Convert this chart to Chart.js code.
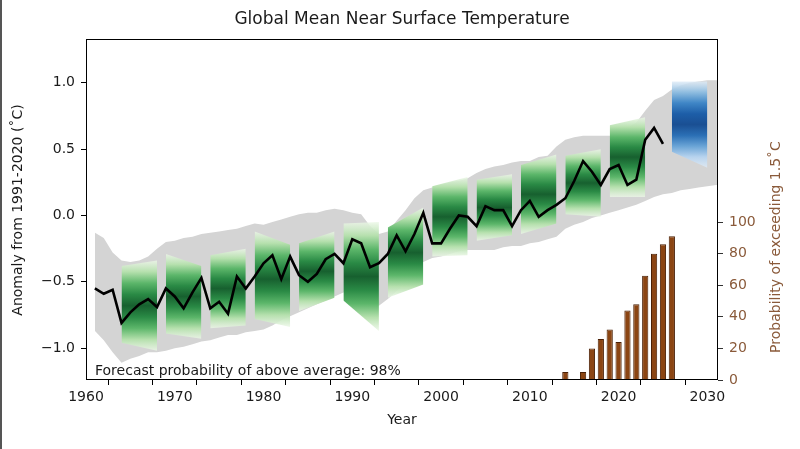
<!DOCTYPE html>
<html>
<head>
<meta charset="utf-8">
<script src="https://cdn.jsdelivr.net/npm/chart.js@4/dist/chart.umd.min.js"></script>
<style>
  html, body { margin: 0; padding: 0; background: #fff; }
</style>
</head>
<body>
<canvas id="chart" width="800" height="449"></canvas>
<script>
// observed anomaly, one value per year from 1961
const anomFirstYear = 1961;
const anomaly = [
  -0.55, -0.59, -0.56, -0.81, -0.73, -0.67, -0.63, -0.69, -0.55, -0.61,
  -0.70, -0.58, -0.47, -0.70, -0.65, -0.74, -0.46, -0.55, -0.46, -0.36,
  -0.30, -0.48, -0.31, -0.45, -0.50, -0.44, -0.33, -0.29, -0.36, -0.18,
  -0.21, -0.39, -0.36, -0.29, -0.15, -0.27, -0.14, 0.02, -0.21, -0.21,
  -0.10, 0.00, -0.01, -0.08, 0.07, 0.04, 0.04, -0.08, 0.04, 0.11,
  -0.01, 0.04, 0.08, 0.13, 0.26, 0.41, 0.33, 0.23, 0.35, 0.38,
  0.23, 0.27, 0.57, 0.66, 0.54
];

// grey model range, one value per year from 1961
const envFirstYear = 1961;
const envUpper = [
  -0.13, -0.17, -0.28, -0.34, -0.35, -0.34, -0.31, -0.25, -0.20, -0.19,
  -0.17, -0.16, -0.14, -0.13, -0.12, -0.11, -0.10, -0.08, -0.06, -0.07,
  -0.05, -0.03, -0.01, 0.01, 0.02, 0.02, 0.04, 0.05, 0.04, 0.02,
  0.01, -0.08, -0.14, -0.12, -0.04, 0.04, 0.13, 0.19, 0.21, 0.23,
  0.25, 0.26, 0.28, 0.32, 0.35, 0.37, 0.38, 0.40, 0.41, 0.41,
  0.44, 0.45, 0.52, 0.57, 0.59, 0.60, 0.60, 0.60, 0.60, 0.63,
  0.66, 0.70, 0.79, 0.87, 0.90, 0.95, 0.98, 1.00, 1.01, 1.02,
  1.02, 1.02
];
const envLower = [
  -0.87, -0.94, -1.03, -1.11, -1.08, -1.06, -1.03, -1.03, -1.02, -1.00,
  -0.99, -0.97, -0.95, -0.94, -0.92, -0.90, -0.90, -0.88, -0.87, -0.86,
  -0.83, -0.79, -0.76, -0.73, -0.70, -0.67, -0.64, -0.61, -0.58, -0.57,
  -0.58, -0.68, -0.68, -0.63, -0.57, -0.51, -0.44, -0.35, -0.32, -0.31,
  -0.29, -0.27, -0.26, -0.26, -0.26, -0.26, -0.24, -0.23, -0.23, -0.21,
  -0.20, -0.18, -0.16, -0.10, -0.07, -0.05, -0.02, 0.00, 0.02, 0.04,
  0.06, 0.08, 0.11, 0.14, 0.16, 0.17, 0.19, 0.20, 0.21, 0.22,
  0.23, 0.23
];

// hindcast plumes (green), each spans start..start+4
const plumeStart = [1964, 1969, 1974, 1979, 1984, 1989, 1994, 1999, 2004, 2009, 2014, 2019];
const plumeTopL = [-0.38, -0.29, -0.30, -0.12, -0.21, -0.06, -0.09, 0.22, 0.27, 0.38, 0.45, 0.68];
const plumeTopR = [-0.34, -0.38, -0.25, -0.22, -0.12, -0.05, 0.06, 0.29, 0.31, 0.46, 0.50, 0.74];
const plumeBotL = [-0.96, -0.89, -0.85, -0.78, -0.72, -0.64, -0.62, -0.31, -0.19, -0.14, 0.01, 0.14];
const plumeBotR = [-1.02, -0.93, -0.83, -0.84, -0.62, -0.87, -0.52, -0.30, -0.15, -0.06, -0.01, 0.14];

// forecast plume (blue)
const fcYears = [2026, 2030];
const fcTop = [1.01, 1.01];
const fcBot = [0.48, 0.36];

// probability of exceeding 1.5C
const probYears = [2014, 2016, 2017, 2018, 2019, 2020, 2021, 2022, 2023, 2024, 2025, 2026];
const probValues = [5, 5, 20, 26, 32, 24, 44, 48, 66, 80, 86, 91];

const xTicks = [1960, 1965, 1970, 1975, 1980, 1985, 1990, 1995, 2000, 2005, 2010, 2015, 2020, 2025, 2030];
const yTicks = [-1.0, -0.5, 0.0, 0.5, 1.0];
const y1Ticks = [0, 20, 40, 60, 80, 100];

const FONT = 'DejaVu Sans';
const BROWN_TXT = '#8a5a3a';

function series(firstYear, vals) {
  return vals.map((v, i) => ({ x: firstYear + i, y: v }));
}

function plumeGradient(top, bot, stops) {
  return function (ctx) {
    const chart = ctx.chart;
    if (!chart.chartArea) return stops[0];
    const ys = chart.scales.y;
    const y0 = ys.getPixelForValue(top);
    const y1 = ys.getPixelForValue(bot);
    const g = chart.ctx.createLinearGradient(0, y0, 0, y1);
    const n = stops.length - 1;
    stops.forEach((c, i) => g.addColorStop(i / n, c));
    return g;
  };
}

const greenStops = ['rgba(235,247,230,0.8)', '#b5e0ad', '#5cb66a', '#2a8a45', '#17602f', '#2a8a45', '#5cb66a', '#b5e0ad', 'rgba(235,247,230,0.8)'];
const blueStops = ['rgba(222,235,247,0.8)', '#8fbde0', '#3f86c6', '#1d5ea8', '#1a4f93', '#2b6fb5', '#6aa4d6', '#b7d3ee', 'rgba(222,235,247,0.8)'];

const datasets = [];

// grey envelope
datasets.push({
  data: series(envFirstYear, envUpper),
  borderWidth: 0, pointRadius: 0, fill: '+1',
  backgroundColor: '#d4d4d4', order: 10
});
datasets.push({
  data: series(envFirstYear, envLower),
  borderWidth: 0, pointRadius: 0, fill: false, order: 10
});

plumeStart.forEach((s, i) => {
  const top = Math.max(plumeTopL[i], plumeTopR[i]);
  const bot = Math.min(plumeBotL[i], plumeBotR[i]);
  datasets.push({
    data: [{ x: s, y: plumeTopL[i] }, { x: s + 4, y: plumeTopR[i] }],
    borderWidth: 0, pointRadius: 0, fill: '+1',
    backgroundColor: plumeGradient(top, bot, greenStops), order: 5
  });
  datasets.push({
    data: [{ x: s, y: plumeBotL[i] }, { x: s + 4, y: plumeBotR[i] }],
    borderWidth: 0, pointRadius: 0, fill: false, order: 5
  });
});

datasets.push({
  data: [{ x: fcYears[0], y: fcTop[0] }, { x: fcYears[1], y: fcTop[1] }],
  borderWidth: 0, pointRadius: 0, fill: '+1',
  backgroundColor: plumeGradient(Math.max(...fcTop), Math.min(...fcBot), blueStops), order: 5
});
datasets.push({
  data: [{ x: fcYears[0], y: fcBot[0] }, { x: fcYears[1], y: fcBot[1] }],
  borderWidth: 0, pointRadius: 0, fill: false, order: 5
});

datasets.push({
  data: series(anomFirstYear, anomaly),
  borderColor: '#000', borderWidth: 2.6, pointRadius: 0, fill: false,
  tension: 0, order: 1
});

datasets.push({
  type: 'bar',
  yAxisID: 'y1',
  data: probYears.map((yr, i) => ({ x: yr, y: probValues[i] })),
  backgroundColor: '#8b4513',
  borderColor: '#4a2006',
  borderWidth: 1,
  barPercentage: 0.7,
  categoryPercentage: 1.0,
  order: 2
});

const decor = {
  id: 'decor',
  afterDraw(chart) {
    const { ctx, chartArea: a } = chart;
    ctx.save();
    ctx.strokeStyle = '#000';
    ctx.lineWidth = 1;
    ctx.strokeRect(a.left + 0.5, a.top + 0.5, a.right - a.left - 1, a.bottom - a.top - 1);

    ctx.fillStyle = '#555';
    ctx.fillRect(0, 0, 2, chart.height);

    ctx.fillStyle = '#1a1a1a';
    ctx.textAlign = 'center';
    ctx.textBaseline = 'middle';
    ctx.font = '17px "' + FONT + '"';
    ctx.fillText('Global Mean Near Surface Temperature', (a.left + a.right) / 2, 20);

    ctx.font = '14px "' + FONT + '"';
    ctx.fillText('Year', (a.left + a.right) / 2, 420);

    ctx.save();
    ctx.translate(18, 210);
    ctx.rotate(-Math.PI / 2);
    ctx.fillText('Anomaly from 1991-2020 (\u02DAC)', 0, 0);
    ctx.restore();

    ctx.save();
    ctx.translate(776, 247);
    ctx.rotate(-Math.PI / 2);
    ctx.fillStyle = BROWN_TXT;
    ctx.fillText('Probability of exceeding 1.5\u02DAC', 0, 0);
    ctx.restore();

    ctx.textAlign = 'left';
    ctx.textBaseline = 'alphabetic';
    ctx.fillStyle = '#1a1a1a';
    ctx.fillText('Forecast probability of above average: 98%', a.left + 9, a.bottom - 5);
    ctx.restore();
  }
};

new Chart(document.getElementById('chart'), {
  type: 'line',
  data: { datasets: datasets },
  options: {
    responsive: false,
    animation: false,
    devicePixelRatio: 1,
    layout: { padding: { top: 39, left: 0, right: 0, bottom: 0 } },
    plugins: { legend: { display: false }, tooltip: { enabled: false }, title: { display: false } },
    scales: {
      x: {
        type: 'linear', min: 1960, max: 2031.2, offset: false,
        afterBuildTicks: s => { s.ticks = xTicks.map(v => ({ value: v })); },
        afterFit: s => { s.height = 69; },
        grid: { drawOnChartArea: false, drawTicks: true, tickLength: 5, color: '#000' },
        border: { display: false },
        ticks: {
          font: { family: FONT, size: 14 }, color: '#1a1a1a', padding: 4, maxRotation: 0,
          callback: v => (v % 10 === 0 ? String(v) : '')
        }
      },
      y: {
        type: 'linear', position: 'left', min: -1.24, max: 1.33,
        afterBuildTicks: s => { s.ticks = yTicks.map(v => ({ value: v })); },
        afterFit: s => { s.width = 86; },
        grid: { drawOnChartArea: false, drawTicks: true, tickLength: 5, color: '#000' },
        border: { display: false },
        ticks: {
          font: { family: FONT, size: 14 }, color: '#1a1a1a', padding: 6,
          callback: v => v.toFixed(1).replace('-', '\u2212')
        }
      },
      y1: {
        type: 'linear', position: 'right', min: 0, max: 216,
        afterBuildTicks: s => { s.ticks = y1Ticks.map(v => ({ value: v })); },
        afterFit: s => { s.width = 82; },
        grid: { drawOnChartArea: false, drawTicks: true, tickLength: 5, color: '#333' },
        border: { display: false },
        ticks: { font: { family: FONT, size: 14 }, color: BROWN_TXT, padding: 6 }
      }
    }
  },
  plugins: [decor]
});
</script>
</body>
</html>
